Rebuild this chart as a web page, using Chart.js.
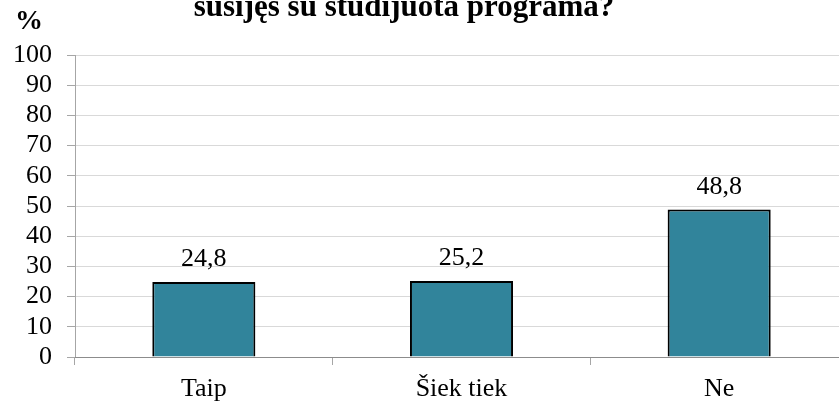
<!DOCTYPE html>
<html>
<head>
<meta charset="utf-8">
<script src="https://cdn.jsdelivr.net/npm/chart.js@4"></script>
<style>
  html, body { margin: 0; padding: 0; background: #fff; }
  #wrap { width: 839px; height: 404px; overflow: hidden; position: relative; }
  canvas { position: absolute; left: 0; top: 0; }
</style>
</head>
<body>
<div id="wrap"><canvas id="chart" width="848" height="404"></canvas></div>
<script>
// duomenys
const kategorijos = ['Taip', 'Šiek tiek', 'Ne'];
const reiksmes = [24.8, 25.2, 48.8];
const pavadinimas = 'susijęs su studijuota programa?';
const asiesVienetas = '%';

const SERIF = "'Liberation Serif', 'Times New Roman', serif";

// antraste ir reiksmes virs stulpeliu
const tekstai = {
  id: 'tekstai',
  afterDatasetsDraw(chart) {
    const ctx = chart.ctx;
    ctx.save();
    ctx.fillStyle = '#000';
    ctx.textBaseline = 'alphabetic';

    ctx.font = 'bold 31px ' + SERIF;
    ctx.textAlign = 'center';
    ctx.fillText(pavadinimas, 404, 16);

    ctx.font = 'bold 28px ' + SERIF;
    ctx.textAlign = 'left';
    ctx.fillText(asiesVienetas, 15, 29);

    ctx.font = '26px ' + SERIF;
    ctx.textAlign = 'center';
    chart.getDatasetMeta(0).data.forEach((bar, i) => {
      const txt = String(reiksmes[i]).replace('.', ',');
      ctx.fillText(txt, bar.x, bar.y - 16);
    });
    ctx.restore();
  }
};

new Chart(document.getElementById('chart'), {
  type: 'bar',
  data: {
    labels: kategorijos,
    datasets: [{
      data: reiksmes,
      backgroundColor: '#31849b',
      borderColor: '#000',
      borderWidth: 2,
      categoryPercentage: 1,
      barPercentage: 0.4
    }]
  },
  options: {
    responsive: false,
    animation: false,
    layout: { padding: { top: 55, right: 0, bottom: 0, left: 0 } },
    plugins: {
      legend: { display: false },
      tooltip: { enabled: false }
    },
    scales: {
      y: {
        min: 0,
        max: 100,
        afterFit: s => { s.width = 75; },
        ticks: {
          stepSize: 10,
          autoSkip: false,
          color: '#000',
          padding: 15,
          font: { family: SERIF, size: 26 }
        },
        grid: { color: '#d9d9d9', tickColor: '#a6a6a6', tickLength: 8 },
        border: { color: '#a6a6a6', width: 1 }
      },
      x: {
        afterFit: s => { s.height = 47; },
        ticks: {
          color: '#000',
          padding: 9,
          font: { family: SERIF, size: 26 }
        },
        grid: { drawOnChartArea: false, offset: true, tickColor: '#a6a6a6', tickLength: 8 },
        border: { color: '#8c8c8c', width: 1 }
      }
    }
  },
  plugins: [tekstai]
});
</script>
</body>
</html>
